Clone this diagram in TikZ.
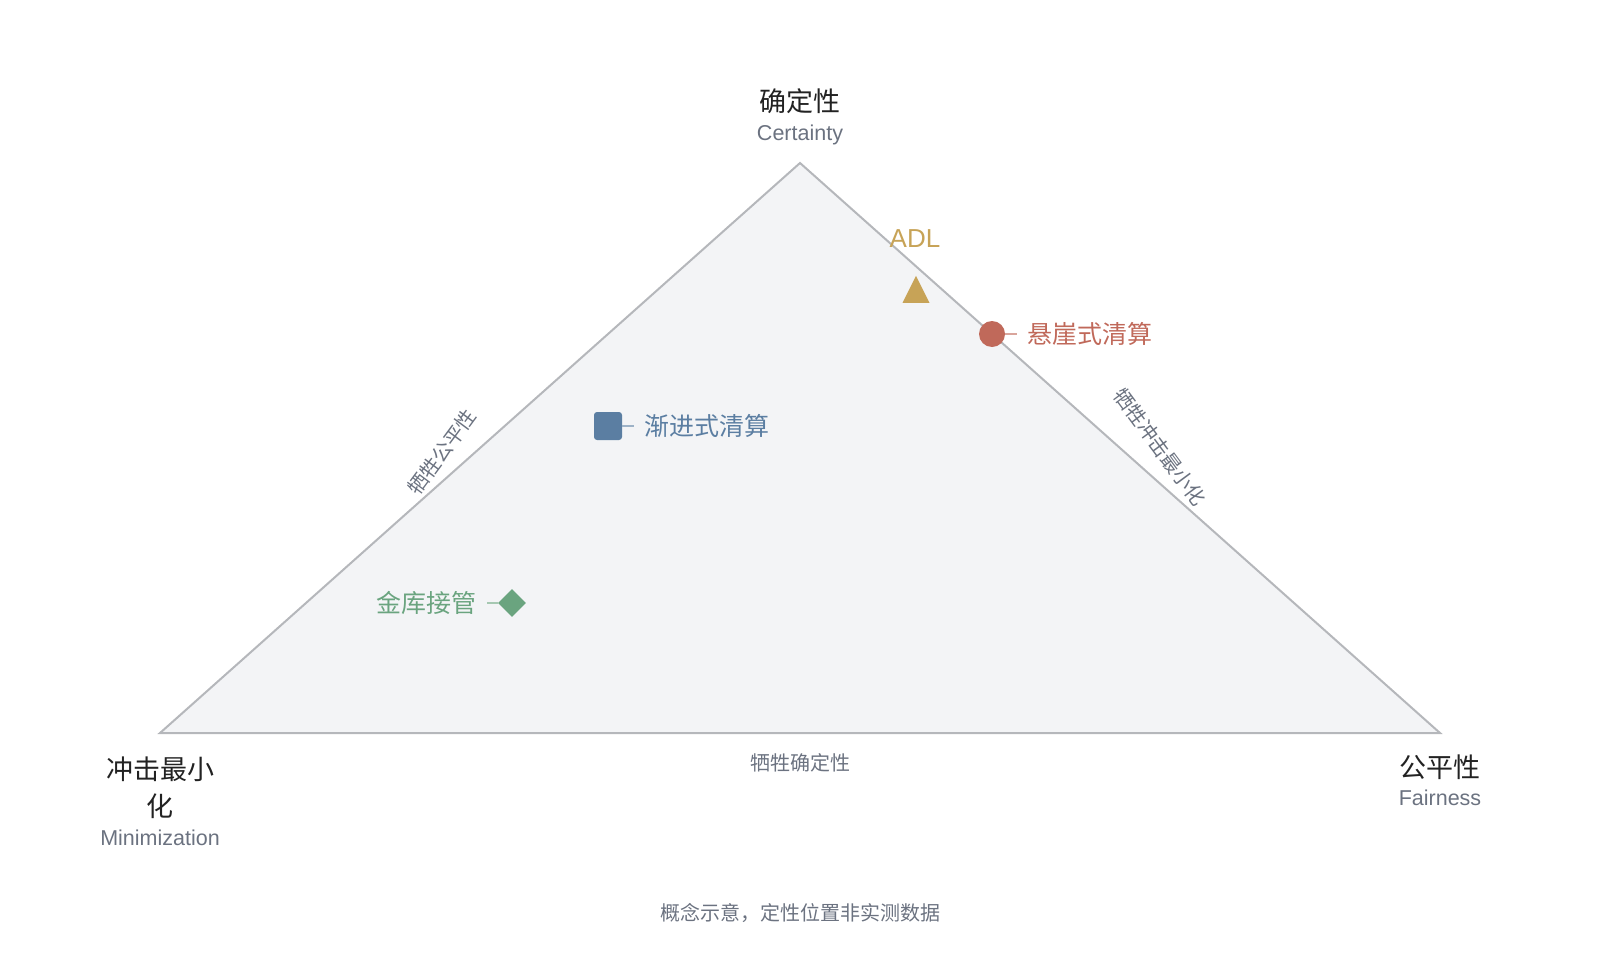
\documentclass[tikz,border=0pt]{standalone}
\usepackage{fontspec}
\setmainfont{Noto Sans CJK SC}
\newfontfamily\latin{Liberation Sans}
\usetikzlibrary{shapes.geometric}
\definecolor{rand}{HTML}{B5B7BB}
\definecolor{flaeche}{HTML}{F3F4F6}
\definecolor{dunkel}{HTML}{222222}
\definecolor{grau}{HTML}{6B7280}
\definecolor{gold}{HTML}{C7A357}
\definecolor{rot}{HTML}{C0695A}
\definecolor{blau}{HTML}{5B7EA2}
\definecolor{gruen}{HTML}{6AA47F}
\tikzset{
    titel/.style={text=dunkel, font=\fontsize{27}{37}\selectfont, align=center},
    unter/.style={text=grau, font=\latin\fontsize{21.5}{26}\selectfont},
    kante/.style={text=grau, font=\fontsize{20}{24}\selectfont},
    marke/.style={inner sep=0pt, minimum size=#1},
    lab/.style={text=#1, font=\fontsize{25}{30}\selectfont, inner sep=10pt},
    linie/.style={draw=#1!60, line width=2pt},
}

\begin{document}
\begin{tikzpicture}[x=1pt,y=-1pt]
    \useasboundingbox (0,0) rectangle (1600,960);
    \coordinate (T) at (800,163);
    \coordinate (L) at (160,733);
    \coordinate (R) at (1440,733);
    \draw[draw=rand, fill=flaeche, line width=2pt] (T) -- (L) -- (R) -- cycle;
    % Ecken
    \node[titel] (T1) at (800,101) {确定性};
    \node[unter] (T2) at (800,135) {Certainty};
    \node[titel] (L1) at (160,788) {冲击最小\\化};
    \node[unter] (L2) at (160,838) {Minimization};
    \node[titel] (R1) at (1440,767) {公平性};
    \node[unter] (R2) at (1440,798) {Fairness};
    % Kanten
    \node[kante, rotate=53.5] (K1) at (442,452) {牺牲公平性};
    \node[kante, rotate=-53.5] (K2) at (1160,447) {牺牲冲击最小化};
    \node[kante] (K3) at (800,763) {牺牲确定性};
    % Verfahren
    \node[isosceles triangle, isosceles triangle stretches, shape border rotate=90,
        minimum width=27pt, minimum height=27pt, inner sep=0pt, fill=gold,
        anchor=lower side] (A) at (916,303) {};
    \node[text=gold, font=\latin\fontsize{26}{30}\selectfont] (A1) at (915,239) {ADL};
    \node[circle, fill=rot, marke=26pt] (B) at (992,334) {};
    \node[lab=rot, anchor=west] (B1) at (1017,334) {悬崖式清算};
    \draw[linie=rot] (B) -- (B1);
    \node[rectangle, rounded corners=3pt, fill=blau, marke=28pt] (C) at (608,426) {};
    \node[lab=blau, anchor=west] (C1) at (634,426) {渐进式清算};
    \draw[linie=blau] (C) -- (C1);
    \node[diamond, fill=gruen, marke=28pt] (D) at (512,603) {};
    \node[lab=gruen, anchor=east] (D1) at (487,603) {金库接管};
    \draw[linie=gruen] (D1) -- (D);
    \node[kante] (F) at (800,913) {概念示意，定性位置非实测数据};
\end{tikzpicture}
\end{document}
